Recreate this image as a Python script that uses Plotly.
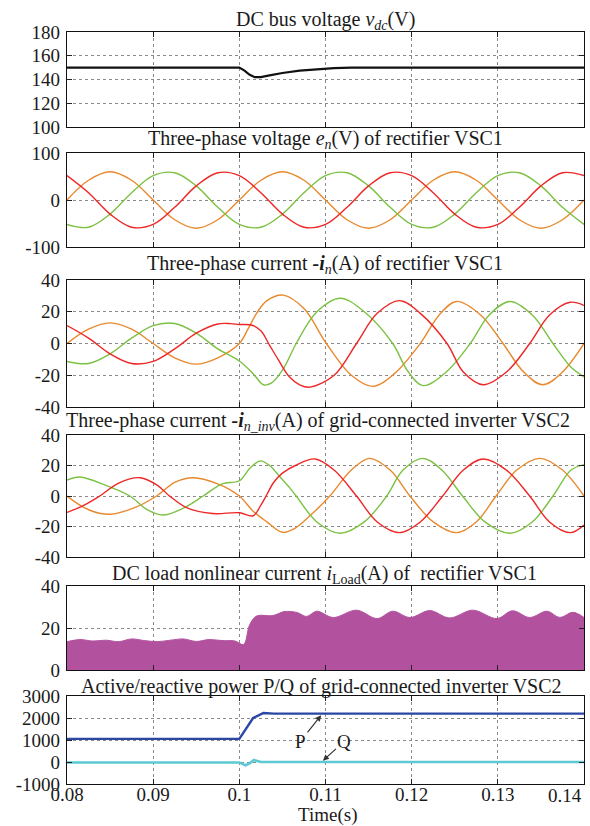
import plotly.graph_objects as go

# ---------------- data ----------------
x_ticks = [0.08, 0.09, 0.10, 0.11, 0.12, 0.13, 0.14]
x_ticktext = ["0.08", "0.09", "0.1", "0.11", "0.12", "0.13", "0.14"]

# Panel 1: DC bus voltage
t_vdc = [0.08, 0.1, 0.1006, 0.1012, 0.1018, 0.1025, 0.1035, 0.105, 0.107, 0.109, 0.111,
         0.113, 0.14]
vdc = [150, 150, 147.5, 144, 142, 142, 143.5, 145.5, 147.5, 148.8, 149.6, 150, 150]

# Panel 2: three-phase voltage
t_v = [0.08, 0.0825, 0.085, 0.0875, 0.09, 0.0925, 0.095, 0.0975, 0.1, 0.1025, 0.105,
       0.1075, 0.11, 0.1125, 0.115, 0.1175, 0.12, 0.1225, 0.125, 0.1275, 0.13,
       0.1325, 0.135, 0.1375, 0.14]
v_orange = [0, 42, 60, 42, 0, -42, -60, -42, 0, 42, 60, 42, 0, -42, -60, -42,
            0, 42, 60, 42, 0, -42, -60, -42, 0]
v_red = [52, 15.5, -30, -58, -52, -15.5, 30, 58, 52, 15.5, -30, -58, -52, -15.5, 30, 58,
         52, 15.5, -30, -58, -52, -15.5, 30, 58, 52]
v_green = [-52, -58, -30, 15.5, 52, 58, 30, -15.5, -52, -58, -30, 15.5, 52, 58, 30, -15.5,
           -52, -58, -30, 15.5, 52, 58, 30, -15.5, -52]

# Panel 3: rectifier current
t_i3_orange = [0.08, 0.0825, 0.085, 0.0875, 0.09, 0.0925, 0.095, 0.0975, 0.1, 0.101, 0.102,
               0.1032, 0.1051, 0.1075, 0.1101, 0.113, 0.1155, 0.118, 0.121, 0.1232, 0.1252,
               0.128, 0.1306, 0.133, 0.1352, 0.1375, 0.14]
i3_orange = [0, 9, 13, 9, 0, -9, -13, -9, 0, 9, 19, 27, 30.5, 22, 0, -20, -27, -19, 0, 18,
             26.5, 18, 0, -18, -26, -18, 0]
t_i3_red = [0.08, 0.0825, 0.085, 0.0875, 0.09, 0.0925, 0.095, 0.0975, 0.099, 0.1, 0.1015,
            0.1025, 0.1035, 0.1045, 0.1058, 0.107, 0.1082, 0.111, 0.1136, 0.116, 0.1186,
            0.121, 0.1241, 0.126, 0.1283, 0.131, 0.1337, 0.136, 0.1384, 0.14]
i3_red = [11.3, 3.4, -6.5, -12.6, -11.3, -3.4, 6.5, 12.3, 12.5, 12, 11.5, 8, -1, -10, -21,
          -26, -27.5, -20, 0, 19, 27, 19, 0, -18, -26, -18, 0, 18, 26, 24]
t_i3_green = [0.08, 0.0825, 0.085, 0.0875, 0.09, 0.0925, 0.095, 0.0975, 0.1, 0.1016, 0.1028,
              0.1037, 0.1051, 0.1066, 0.109, 0.1117, 0.1145, 0.1178, 0.1195, 0.1213, 0.124,
              0.1268, 0.129, 0.1314, 0.134, 0.1364, 0.1385, 0.14]
i3_green = [-11.3, -12.6, -6.5, 3.4, 11.3, 12.6, 6.5, -3.4, -11, -19, -26, -25, -16, 0, 20,
            28.5, 20, 0, -17, -26.5, -18, 0, 18, 26.5, 18, 0, -15, -21]

# Panel 4: grid-connected inverter current
t_i4_orange = [0.08, 0.0825, 0.085, 0.0877, 0.0904, 0.0925, 0.0946, 0.0975, 0.1, 0.1016,
               0.1032, 0.105, 0.1065, 0.108, 0.1105, 0.113, 0.1151, 0.1175, 0.1198, 0.1225,
               0.1252, 0.1275, 0.1298, 0.1322, 0.1349, 0.1375, 0.14]
i4_orange = [0, -9, -12, -8, 0, 9, 12, 8, 0, -10, -17, -23.8, -21, -14, 0, 17, 24.7, 17, 0,
             -17, -24, -17, 0, 17, 24.7, 17, 0]
t_i4_red = [0.08, 0.082, 0.0838, 0.086, 0.0885, 0.0905, 0.0919, 0.094, 0.0969, 0.1, 0.1016,
            0.1025, 0.1032, 0.104, 0.105, 0.1065, 0.1088, 0.111, 0.1136, 0.116, 0.1186, 0.121,
            0.1236, 0.126, 0.1283, 0.131, 0.1337, 0.136, 0.1384, 0.14]
i4_red = [-10.8, -6, 0, 8.5, 12, 7, 0, -8, -11.5, -11, -13, -6, 1, 9, 15, 20, 24.3, 17, 0,
          -17, -24, -17, 0, 17, 24.3, 17, 0, -17, -24, -19]
t_i4_green = [0.08, 0.0815, 0.0845, 0.0873, 0.0893, 0.0911, 0.0935, 0.0958, 0.098, 0.1,
              0.1012, 0.1024, 0.1035, 0.1048, 0.1059, 0.1066, 0.109, 0.1117, 0.1145, 0.1171,
              0.119, 0.1213, 0.1235, 0.1259, 0.1285, 0.1314, 0.134, 0.1364, 0.1385, 0.14]
i4_green = [10.5, 12.5, 7, 0, -9, -12.5, -8, 0, 8, 10, 18, 23, 20, 12, 5, 0, -17, -24.4, -17,
            0, 17, 24.7, 17, 0, -17, -24.4, -17, 0, 17, 20.6]

# Panel 5: DC load current (envelope of the dense switching waveform)
t_load = [0.08, 0.0815, 0.083, 0.0845, 0.086, 0.0875, 0.089, 0.0905, 0.092, 0.0935, 0.095,
          0.0965, 0.098, 0.0995, 0.1005, 0.1012, 0.102, 0.1039, 0.1052, 0.1067, 0.1078,
          0.109, 0.1109, 0.1136, 0.116, 0.1178, 0.1198, 0.1221, 0.1244, 0.1271, 0.1299,
          0.1317, 0.1337, 0.1357, 0.1372, 0.1387, 0.14]
i_load = [13.5, 14.5, 13.8, 14.2, 13.5, 14.8, 14.0, 13.5, 14.2, 14.8, 13.6, 14.5, 14.0, 13.8,
          12.2, 21.5, 25.7, 25.9, 27.8, 27.4, 25.5, 28.0, 25.0, 28.5, 24.5, 28.0, 25.0, 28.3,
          24.8, 28.5, 24.5, 28.2, 25.0, 28.0, 25.0, 27.5, 25.0]

# Panel 6: active / reactive power
t_p = [0.08, 0.1, 0.1016, 0.1028, 0.104, 0.14]
p_val = [1050, 1050, 2000, 2230, 2200, 2200]
t_q = [0.08, 0.1, 0.1007, 0.1012, 0.1017, 0.1025, 0.14]
q_val = [-20, -20, -150, -60, 90, 0, 0]

y_ticks = [
    [100, 120, 140, 160, 180],
    [-100, 0, 100],
    [-40, -20, 0, 20, 40],
    [-40, -20, 0, 20, 40],
    [0, 20, 40],
    [-1000, 0, 1000, 2000, 3000],
]
y_ranges = [[100, 180], [-100, 100], [-40, 40], [-40, 40], [0, 40], [-1000, 3000]]

titles = [
    "DC bus voltage <i>v</i><sub><i>dc</i></sub>(V)",
    "Three-phase voltage <i>e</i><sub><i>n</i></sub>(V) of rectifier VSC1",
    "Three-phase current <b><i>-i</i></b><sub><i>n</i></sub>(A) of rectifier VSC1",
    "Three-phase current <b><i>-i</i></b><sub><i>n_inv</i></sub>(A) of grid-connected inverter VSC2",
    "DC load nonlinear current <i>i</i><sub>Load</sub>(A) of&nbsp; rectifier VSC1",
    "Active/reactive power P/Q of grid-connected inverter VSC2",
]

# ---------------- layout geometry ----------------
W, H = 590, 826
ML, MR, MT, MB = 67, 6, 32, 42
PH = H - MT - MB
PW = W - ML - MR
panel_px = [(32, 127), (153, 247), (280, 407), (435, 557), (586, 670), (696, 784)]
title_px = [(325, 20), (325, 140), (325, 264), (318, 421), (324, 574), (321, 686)]


def ypaper(py):
    return (H - MB - py) / PH


def xpaper(px):
    return (px - ML) / PW


ORANGE = "#E8892E"
RED = "#EE2626"
GREEN = "#7DC143"
MAGENTA = "#B2529F"
PBLUE = "#2B46A3"
QCYAN = "#5CC9D3"
FONT = "'Liberation Serif', 'Times New Roman', 'DejaVu Serif', serif"
TXT = "#1a1a1a"
TITLE_SIZE = 20
TICK_SIZE = 19

fig = go.Figure()


def add_line(row, x, y, color, width, shape="spline"):
    ax = "" if row == 1 else str(row)
    fig.add_trace(go.Scatter(x=x, y=y, mode="lines", xaxis="x" + ax, yaxis="y" + ax,
                             line=dict(color=color, width=width, shape=shape),
                             showlegend=False, hoverinfo="skip"))


add_line(1, t_vdc, vdc, "#111111", 2.2, shape="linear")
add_line(2, t_v, v_orange, ORANGE, 1.4)
add_line(2, t_v, v_green, GREEN, 1.4)
add_line(2, t_v, v_red, RED, 1.4)
add_line(3, t_i3_orange, i3_orange, ORANGE, 1.4)
add_line(3, t_i3_green, i3_green, GREEN, 1.4)
add_line(3, t_i3_red, i3_red, RED, 1.4)
add_line(4, t_i4_orange, i4_orange, ORANGE, 1.4)
add_line(4, t_i4_green, i4_green, GREEN, 1.4)
add_line(4, t_i4_red, i4_red, RED, 1.4)
fig.add_trace(go.Scatter(x=t_load, y=i_load, mode="lines", xaxis="x5", yaxis="y5",
                         line=dict(color=MAGENTA, width=1, shape="spline"),
                         fill="tozeroy", fillcolor=MAGENTA, showlegend=False,
                         hoverinfo="skip"))
add_line(6, t_q, q_val, QCYAN, 2.6, shape="linear")
add_line(6, t_p, p_val, PBLUE, 2.4, shape="linear")

layout = dict(
    width=W, height=H,
    margin=dict(l=ML, r=MR, t=MT, b=MB, pad=0),
    paper_bgcolor="white", plot_bgcolor="white",
    font=dict(family=FONT, size=TICK_SIZE, color=TXT),
    showlegend=False,
)

for i in range(6):
    row = i + 1
    sfx = "" if row == 1 else str(row)
    top, bot = panel_px[i]
    layout["xaxis" + sfx] = dict(
        domain=[0, 1], anchor="y" + sfx, range=[0.08, 0.14],
        tickmode="array", tickvals=x_ticks,
        ticktext=[t if t != "0.14" else "" for t in x_ticktext],
        showticklabels=(row == 6),
        ticks="inside", ticklen=5, tickcolor="#222", tickwidth=1,
        showline=True, linecolor="#111", linewidth=1.4, mirror="allticks",
        showgrid=True, gridcolor="#8a8a8a", griddash="dot", gridwidth=1,
        zeroline=False, tickfont=dict(family=FONT, size=TICK_SIZE, color=TXT),
        ticklabelstandoff=-7,
    )
    if row != 1:
        layout["xaxis" + sfx]["matches"] = "x"
    layout["yaxis" + sfx] = dict(
        domain=[ypaper(bot), ypaper(top)], anchor="x" + sfx, range=y_ranges[i],
        tickmode="array", tickvals=y_ticks[i],
        ticktext=[str(v) for v in y_ticks[i]],
        ticks="inside", ticklen=5, tickcolor="#222", tickwidth=1,
        showline=True, linecolor="#111", linewidth=1.4, mirror="allticks",
        showgrid=True, gridcolor="#8a8a8a", griddash="dot", gridwidth=1,
        zeroline=False, tickfont=dict(family=FONT, size=TICK_SIZE, color=TXT),
        ticklabelstandoff=2,
    )

annotations = []
for i in range(6):
    cx, cy = title_px[i]
    annotations.append(dict(text=titles[i], x=xpaper(cx), y=ypaper(cy), xref="paper",
                            yref="paper", xanchor="center", yanchor="middle",
                            showarrow=False,
                            font=dict(family=FONT, size=TITLE_SIZE, color=TXT)))

# last x tick label kept inside the figure
annotations.append(dict(text=x_ticktext[-1], x=x_ticks[-1], y=ypaper(795), xref="x6",
                        yref="paper", xanchor="right", yanchor="middle", showarrow=False,
                        font=dict(family=FONT, size=TICK_SIZE, color=TXT)))
annotations.append(dict(text="Time(s)", x=xpaper(327), y=ypaper(815), xref="paper",
                        yref="paper", xanchor="center", yanchor="middle", showarrow=False,
                        font=dict(family=FONT, size=TICK_SIZE, color=TXT)))
# P / Q labels with arrows
annotations.append(dict(text="P", x=0.1095, y=2130, xref="x6", yref="y6",
                        ax=0.1071, ay=950, axref="x6", ayref="y6", showarrow=True,
                        arrowhead=2, arrowsize=1, arrowwidth=1.2, arrowcolor="#333",
                        font=dict(family=FONT, size=TICK_SIZE, color=TXT)))
annotations.append(dict(text="Q", x=0.1097, y=60, xref="x6", yref="y6",
                        ax=0.1122, ay=950, axref="x6", ayref="y6", showarrow=True,
                        arrowhead=2, arrowsize=1, arrowwidth=1.2, arrowcolor="#333",
                        font=dict(family=FONT, size=TICK_SIZE, color=TXT)))
layout["annotations"] = annotations

fig.update_layout(**layout)
fig.write_html("out.html")
